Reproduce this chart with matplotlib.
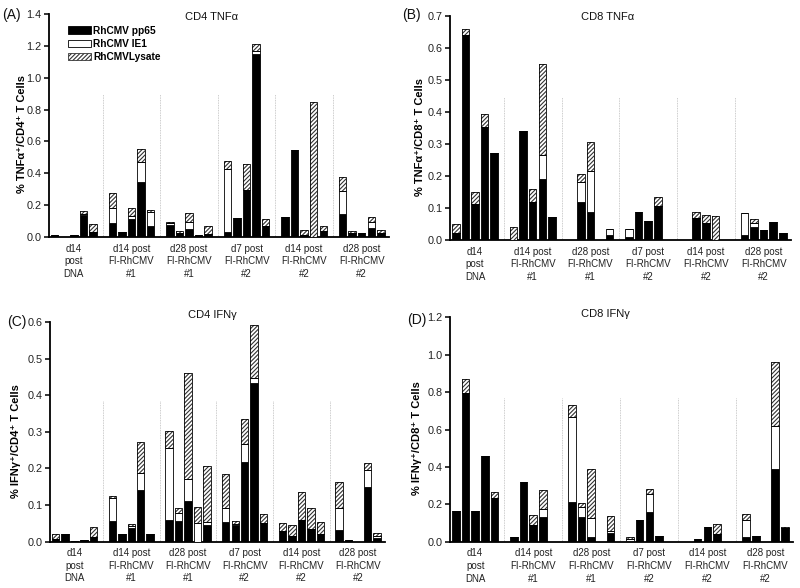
import matplotlib
matplotlib.use('Agg')
import matplotlib.pyplot as plt
from matplotlib.patches import Patch
import matplotlib.transforms as mtransforms
import numpy as np

plt.rcParams['font.family'] = ['Liberation Sans', 'DejaVu Sans']
plt.rcParams['hatch.linewidth'] = 0.8

groups = ["d14\npost\nDNA", "d14 post\nFI-RhCMV\n#1", "d28 post\nFI-RhCMV\n#1",
          "d7 post\nFI-RhCMV\n#2", "d14 post\nFI-RhCMV\n#2", "d28 post\nFI-RhCMV\n#2"]
series = ["RhCMV pp65", "RhCMV IE1", "RhCMVLysate"]

# Each list: 6 groups x 5 animals (segment heights)
a_pp65 = [0.012, 0, 0.012, 0.14, 0.03,  0.085, 0.03, 0.115, 0.345, 0.07,
          0.075, 0.025, 0.05, 0.01, 0.02,  0.03, 0.12, 0.295, 1.15, 0.07,
          0.125, 0.545, 0.01, 0, 0.04,  0.143, 0.025, 0.027, 0.057, 0.025]
a_ie1 = [0, 0, 0, 0.005, 0,  0.095, 0, 0.015, 0.125, 0.09,
         0.01, 0, 0.044, 0, 0,  0.40, 0, 0, 0.02, 0,
         0, 0, 0, 0, 0,  0.147, 0, 0, 0.037, 0]
a_lys = [0, 0, 0, 0.02, 0.05,  0.095, 0, 0.05, 0.085, 0.01,
         0.01, 0.011, 0.056, 0, 0.052,  0.045, 0, 0.165, 0.04, 0.045,
         0, 0, 0.037, 0.845, 0.032,  0.085, 0.011, 0, 0.034, 0.022]

b_pp65 = [0.021, 0.64, 0.111, 0.354, 0.271,  0, 0.34, 0.12, 0.19, 0.071,
          0, 0.12, 0.087, 0, 0.016,  0.008, 0.089, 0.06, 0.107, 0,
          0, 0.07, 0.052, 0, 0,  0.016, 0.042, 0.031, 0.055, 0.021]
b_ie1 = [0, 0, 0, 0, 0,  0, 0, 0, 0.076, 0,
         0, 0.06, 0.13, 0, 0.018,  0.026, 0, 0, 0, 0,
         0, 0, 0, 0, 0,  0.069, 0.012, 0, 0, 0]
b_lys = [0.029, 0.02, 0.038, 0.04, 0,  0.042, 0, 0.038, 0.284, 0,
         0, 0.027, 0.088, 0, 0,  0, 0, 0, 0.028, 0,
         0, 0.019, 0.026, 0.075, 0,  0, 0.011, 0, 0, 0]

c_pp65 = [0.008, 0.02, 0.002, 0.005, 0.014,  0.057, 0.02, 0.038, 0.14, 0.02,
          0.059, 0.057, 0.112, 0, 0.046,  0.053, 0.046, 0.217, 0.433, 0.052,
          0.03, 0.016, 0.059, 0.034, 0.021,  0.032, 0.006, 0, 0.15, 0.009]
c_ie1 = [0, 0, 0, 0, 0,  0.061, 0, 0.005, 0.047, 0,
         0.196, 0.022, 0.058, 0.05, 0.009,  0.04, 0.003, 0.049, 0.014, 0,
         0, 0, 0, 0, 0,  0.061, 0, 0, 0.046, 0.007]
c_lys = [0.012, 0, 0, 0, 0.025,  0.008, 0, 0.004, 0.085, 0,
         0.048, 0.014, 0.292, 0.044, 0.152,  0.091, 0.008, 0.069, 0.146, 0.024,
         0.02, 0.03, 0.076, 0.059, 0.034,  0.069, 0, 0, 0.018, 0.009]

d_pp65 = [0.166, 0.793, 0.162, 0.458, 0.232,  0.023, 0.317, 0.089, 0.13, 0,
          0.21, 0.13, 0.027, 0, 0.048,  0.005, 0.116, 0.16, 0.032, 0,
          0, 0.012, 0.08, 0.039, 0,  0.023, 0.03, 0, 0.389, 0.075]
d_ie1 = [0, 0, 0, 0, 0,  0, 0, 0, 0.043, 0,
         0.455, 0.057, 0.098, 0, 0.011,  0.008, 0, 0.093, 0, 0,
         0, 0, 0, 0, 0,  0.093, 0, 0, 0.23, 0]
d_lys = [0, 0.075, 0, 0, 0.035,  0, 0, 0.054, 0.103, 0,
         0.066, 0.018, 0.262, 0, 0.078,  0.01, 0, 0.027, 0, 0,
         0, 0, 0, 0.054, 0,  0.032, 0, 0, 0.344, 0.005]

titles = ["CD4 TNFα", "CD8 TNFα", "CD4 IFNγ", "CD8 IFNγ"]
ylabels = ["% TNFα⁺/CD4⁺ T Cells", "% TNFα⁺/CD8⁺ T Cells",
           "% IFNγ⁺/CD4⁺ T Cells", "% IFNγ⁺/CD8⁺ T Cells"]
panel_tags = ["(A)", "(B)", "(C)", "(D)"]
ymaxes = [1.4, 0.7, 0.6, 1.2]
ysteps = [0.2, 0.1, 0.1, 0.2]

W, H = 800, 588
fig = plt.figure(figsize=(8, 5.88), dpi=100)

# axes rectangles in pixels: left, right, top, bottom
rects = [(49, 389, 14, 237), (450, 791, 16, 240), (50, 385, 322, 541.7), (450, 793, 317.3, 541.7)]
label_x = [-0.078, -0.088, -0.1, -0.095]
title_pos = [(212, 17), (608, 17), (212, 315), (605, 314)]
tag_pos = [(2, 15), (402, 15), (7, 322), (407, 320)]

data = [(a_pp65, a_ie1, a_lys), (b_pp65, b_ie1, b_lys),
        (c_pp65, c_ie1, c_lys), (d_pp65, d_ie1, d_lys)]

bw = 0.78
x = np.array([6 * g + i for g in range(6) for i in range(5)], dtype=float)
hatch_color = '#333333'
hatch_pat = '////////'

for k in range(4):
    l, r, t, b = rects[k]
    ax = fig.add_axes([l / W, 1 - b / H, (r - l) / W, (b - t) / H])
    pp, ie, ly = [np.array(v, dtype=float) for v in data[k]]
    ax.bar(x, pp, bw, color='black', edgecolor='black', linewidth=0.6, zorder=3)
    ax.bar(x, ie, bw, bottom=pp, color='white', edgecolor='black', linewidth=0.6, zorder=3)
    ax.bar(x, ly, bw, bottom=pp + ie, color='white', edgecolor=hatch_color, hatch=hatch_pat,
           linewidth=0, zorder=3)
    ax.bar(x, ly, bw, bottom=pp + ie, fill=False, edgecolor='black', linewidth=0.6, zorder=4)

    ax.set_xlim(-0.6, 34.85)
    ax.set_ylim(0, ymaxes[k])
    ax.set_yticks(np.arange(0, ymaxes[k] + 1e-9, ysteps[k]))
    ax.yaxis.set_major_formatter(matplotlib.ticker.FormatStrFormatter('%.1f'))
    ax.set_xticks([])
    for s in ['top', 'right']:
        ax.spines[s].set_visible(False)
    for s in ['left', 'bottom']:
        ax.spines[s].set_linewidth(1.3)
    ax.tick_params(axis='y', direction='out', length=3.5, width=1.1, labelsize=7.8, pad=2,
                   labelcolor='#222222')

    for g in range(5):
        ax.plot([6 * g + 5, 6 * g + 5], [0, 0.64 * ymaxes[k]], color='#bbbbbb',
                linewidth=0.6, linestyle=(0, (1, 1)), zorder=1)

    trans = mtransforms.blended_transform_factory(ax.transData, ax.transAxes)
    for g, name in enumerate(groups):
        ax.text(6 * g + 2, -0.03, name, transform=trans, ha='center', va='top',
                fontsize=7, linespacing=1.32, color='#222222')

    ax.set_ylabel(ylabels[k], fontsize=8, fontweight='bold', va='center')
    ax.yaxis.set_label_coords(label_x[k], 0.46)

    fig.text(title_pos[k][0] / W, 1 - title_pos[k][1] / H, titles[k], ha='center',
             va='center', fontsize=8, color='#111111')
    fig.text(tag_pos[k][0] / W, 1 - tag_pos[k][1] / H, panel_tags[k], ha='left',
             va='center', fontsize=10, color='#111111')

    if k == 0:
        handles = [Patch(facecolor='black', edgecolor='black', linewidth=0.6),
                   Patch(facecolor='white', edgecolor='black', linewidth=0.6),
                   Patch(facecolor='white', edgecolor=hatch_color, hatch=hatch_pat, linewidth=0.6)]
        leg = ax.legend(handles, series, loc='upper left', bbox_to_anchor=(0.045, 0.965),
                        frameon=False, handlelength=2.2, handleheight=0.8,
                        handletextpad=0.25, labelspacing=0.3, borderaxespad=0,
                        prop={'size': 7.3, 'weight': 'bold'})

fig.savefig('out.png', dpi=100)
